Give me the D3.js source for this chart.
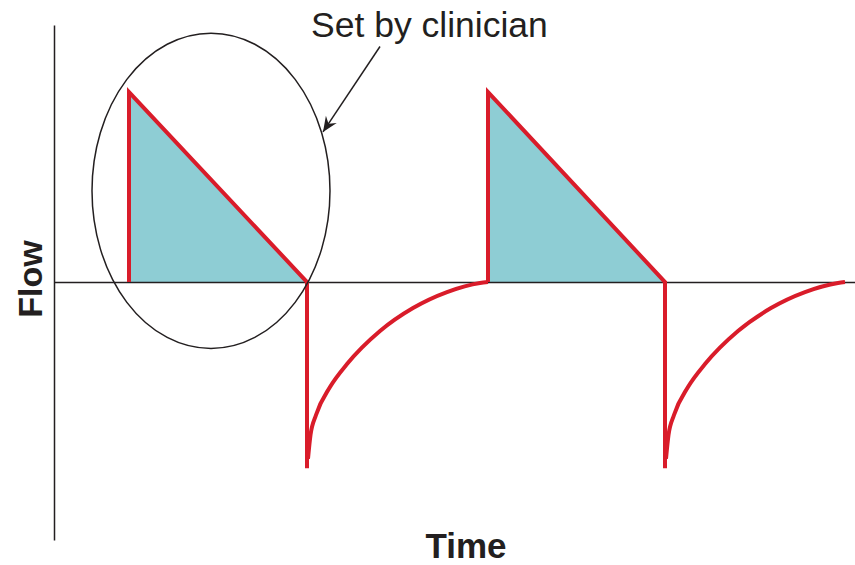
<!DOCTYPE html>
<html>
<head>
<meta charset="utf-8">
<script src="https://cdn.jsdelivr.net/npm/d3@7"></script>
<style>
  html, body { margin: 0; padding: 0; background: #fff; }
  svg { display: block; font-family: "Liberation Sans", Arial, sans-serif; }
</style>
</head>
<body>
<div id="chart"></div>
<script>
// flow waveform (time in arbitrary units, flow normalised to peak)
const insp1Time = [0.75, 0.75, 2.53, 2.53];
const insp1Flow = [0, 1.0, 0, -0.98];
const exp1Time = [2.54, 2.565, 2.62, 2.76, 2.93, 3.26, 3.59, 3.93, 4.26, 4.34];
const exp1Flow = [-0.93, -0.805, -0.70, -0.553, -0.432, -0.258, -0.137, -0.053, -0.005, 0];

const insp2Time = [4.34, 4.34, 6.11, 6.11];
const insp2Flow = [0, 1.0, 0, -0.98];
const exp2Time = [6.12, 6.145, 6.20, 6.34, 6.51, 6.84, 7.17, 7.51, 7.84, 7.91];
const exp2Flow = [-0.93, -0.805, -0.70, -0.553, -0.432, -0.258, -0.137, -0.053, -0.005, 0];

// annotation ellipse extent (data space) and label
const ellipseTime = [0.38, 2.76];
const ellipseFlow = [-0.35, 1.31];
const arrowTime = [3.26, 2.69];
const arrowFlow = [1.24, 0.79];
const annotationText = "Set by clinician";
const xLabel = "Time";
const yLabel = "Flow";

const width = 855;
const height = 565;
const red = "#d91c2a";
const teal = "#8ecdd4";
const ink = "#231f20";

const svg = d3.select("#chart")
    .append("svg")
    .attr("width", width)
    .attr("height", height);

const x = d3.scaleLinear().domain([0, 8.01]).range([54, 855]);
const y = d3.scaleLinear().domain([-1.358, 1.353]).range([540, 25]);

const zip = (ts, fs) => ts.map((t, i) => [t, fs[i]]);

// axes: vertical flow axis and the zero-flow baseline, no ticks
svg.append("g")
    .attr("transform", `translate(${x(0)},0)`)
    .call(d3.axisLeft(y).tickValues([]).tickSizeOuter(0))
    .call(g => g.select(".domain").attr("stroke", ink).attr("stroke-width", 1.5));

const straight = d3.line().x(d => x(d[0])).y(d => y(d[1]));
const smooth = d3.line().x(d => x(d[0])).y(d => y(d[1])).curve(d3.curveMonotoneX);

// inspiratory triangles filled
[[insp1Time, insp1Flow], [insp2Time, insp2Flow]].forEach(([ts, fs]) => {
    const tri = zip(ts, fs).slice(0, 3);
    svg.append("path")
        .attr("d", straight(tri) + "Z")
        .attr("fill", teal);
});

// zero-flow baseline on top of the fill
svg.append("g")
    .attr("transform", `translate(0,${y(0)})`)
    .call(d3.axisBottom(x).tickValues([]).tickSizeOuter(0))
    .call(g => g.select(".domain").attr("stroke", ink).attr("stroke-width", 1.5));

// red waveform
[[insp1Time, insp1Flow], [insp2Time, insp2Flow]].forEach(([ts, fs]) => {
    svg.append("path")
        .attr("d", straight(zip(ts, fs)))
        .attr("fill", "none")
        .attr("stroke", red)
        .attr("stroke-width", 4)
        .attr("stroke-linejoin", "miter");
});
[[exp1Time, exp1Flow], [exp2Time, exp2Flow]].forEach(([ts, fs]) => {
    svg.append("path")
        .attr("d", smooth(zip(ts, fs)))
        .attr("fill", "none")
        .attr("stroke", red)
        .attr("stroke-width", 4);
});

// annotation ellipse
svg.append("ellipse")
    .attr("cx", (x(ellipseTime[0]) + x(ellipseTime[1])) / 2)
    .attr("cy", (y(ellipseFlow[0]) + y(ellipseFlow[1])) / 2)
    .attr("rx", (x(ellipseTime[1]) - x(ellipseTime[0])) / 2)
    .attr("ry", (y(ellipseFlow[0]) - y(ellipseFlow[1])) / 2)
    .attr("fill", "none")
    .attr("stroke", ink)
    .attr("stroke-width", 1.5);

// arrow
svg.append("defs").append("marker")
    .attr("id", "arrowhead")
    .attr("viewBox", "-16 -8 18 16")
    .attr("markerWidth", 18)
    .attr("markerHeight", 16)
    .attr("markerUnits", "userSpaceOnUse")
    .attr("orient", "auto")
    .append("path")
    .attr("d", "M0,0 L-15,-6.5 L-10,0 L-15,6.5 Z")
    .attr("fill", ink);

svg.append("line")
    .attr("x1", x(arrowTime[0])).attr("y1", y(arrowFlow[0]))
    .attr("x2", x(arrowTime[1])).attr("y2", y(arrowFlow[1]))
    .attr("stroke", ink)
    .attr("stroke-width", 1.5)
    .attr("marker-end", "url(#arrowhead)");

svg.append("text")
    .attr("x", 311)
    .attr("y", 37)
    .attr("font-size", 35.5)
    .attr("fill", ink)
    .text(annotationText);

// axis labels
svg.append("text")
    .attr("x", 466)
    .attr("y", 558)
    .attr("text-anchor", "middle")
    .attr("font-size", 35)
    .attr("font-weight", "bold")
    .attr("fill", ink)
    .text(xLabel);

svg.append("text")
    .attr("transform", "translate(42,279) rotate(-90)")
    .attr("text-anchor", "middle")
    .attr("font-size", 34)
    .attr("font-weight", "bold")
    .attr("fill", ink)
    .text(yLabel);
</script>
</body>
</html>
